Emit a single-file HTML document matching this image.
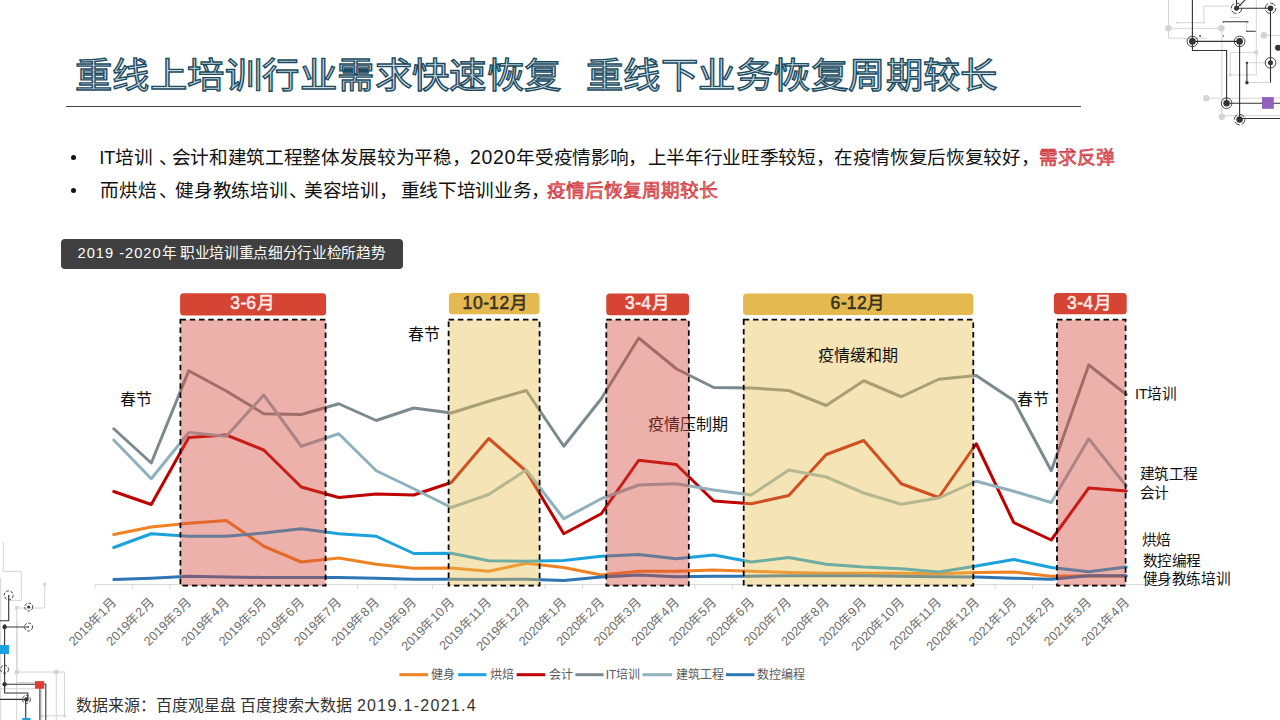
<!DOCTYPE html>
<html lang="zh-CN"><head><meta charset="utf-8"><style>
html,body{margin:0;padding:0;}
body{width:1280px;height:720px;overflow:hidden;background:#fff;position:relative;font-family:"Liberation Sans",sans-serif;}
.abs{position:absolute;}
.title{top:47.8px;transform:scaleY(0.94);transform-origin:0 0;letter-spacing:0.45px;font-size:37.33px;font-weight:normal;color:#c9d9e0;-webkit-text-stroke:1.45px #1b4b60;white-space:nowrap;}
.rule{left:66px;top:105.5px;width:1015px;height:1.5px;background:#454545;}
.b{font-size:18.67px;color:#111;white-space:nowrap;letter-spacing:-0.33px;}
.b .dot{position:absolute;left:-28px;}
.red{color:#e77f80;font-weight:normal;-webkit-text-stroke:0.6px #c9222a;letter-spacing:0;}
.bul{width:5px;height:5px;border-radius:50%;background:#111;}
.num{letter-spacing:0.7px;font-size:19.5px;position:relative;top:4.5px;}
.ctitle{left:60.5px;top:239px;width:342px;height:29.5px;background:#404040;border-radius:4px;color:#fff;font-size:14.67px;line-height:29.5px;}
.ctitle .ct{position:absolute;left:17px;}
svg.chart{position:absolute;left:0;top:0;}
.hdr{font-size:17.5px;}
.hn{letter-spacing:0.6px;}
.hm{font-size:16px;}
.hd{font-size:17.5px;}
.xl{font-size:12.7px;fill:#6e6e6e;}
.ann{font-size:16px;fill:#111;}
.rl{font-size:14.67px;fill:#111;letter-spacing:-0.4px;}
.lg{font-size:12px;fill:#595959;}
.src{left:76px;top:692px;font-size:16px;color:#333;white-space:nowrap;}
</style></head><body>
<svg class="deco" style="position:absolute;left:0;top:0" width="1280" height="720">
<g stroke="#d4d4d4" stroke-width="1" fill="none">
<path d="M1168.5 0V38.2H1206.7M1168.5 28.3H1221.4M1177 22.7H1203.9V6.1H1229.9M1229.9 17.5H1239.8M1221.9 28.3V116.7M1256.3 0V74.9H1230.3V52.4H1256.3M1263.9 35.4H1280M1206.3 98.2H1280M1221.9 115.7H1280M1246.4 22.7V31.2M1246.9 62.8H1270.5M1246.9 82.5H1270.5"/>
<path d="M3.3 542V571.3H21.3V600.4H8.7M0.7 578V720M44.7 584.7V608H16.7V720M17 620V672H56.25M56.25 672H64.6V717M56.25 672V720M17 682.5H35M0 688.75H35M41.7 688.75V720M41.7 715.8H64.6"/>
</g>
<g fill="#d4d4d4">
<circle cx="1168.5" cy="28.3" r="3.3"/><circle cx="1221.4" cy="28.3" r="3.3"/><circle cx="1263.9" cy="35.4" r="3.3"/>
<circle cx="1206.3" cy="98.2" r="3.3"/><circle cx="1221.9" cy="116.7" r="3.3"/><circle cx="1256.3" cy="52.4" r="2.3"/>
<circle cx="1230.3" cy="74.9" r="1.7"/><circle cx="1177" cy="22.7" r="1"/><circle cx="1203.9" cy="22.7" r="1"/>
<rect x="43.2" y="583" width="3" height="3"/><rect x="15" y="606" width="3.5" height="3.5"/>
<circle cx="17" cy="672" r="2.5"/><circle cx="56.25" cy="672" r="2.5"/><circle cx="64.6" cy="716" r="1.6"/><circle cx="41.7" cy="716" r="1.6"/>
</g>
<g stroke="#333" stroke-width="1.1" fill="none">
<path d="M1192.4 0V50.5H1226.6V103.2M1192.4 41.4H1239.6V119.5M1236.5 0V8.3H1270.5V62.8M1236.5 8.3L1245 0M1226.6 103.2H1280M1239.6 118.5H1280M1223.3 22.7V21.7H1247.8V22.7M1246 31.2H1255.8M1246.9 62.8V82.7M1270.5 62.8V82.5"/>
<path d="M8.7 595.3V620.7H0M4.6 627H28.5M4.6 627V693H27.8V699.4M0 699.4H26.4M25.7 699.4V720M4.6 684.2H45.8V720M39.9 688V720"/>
</g>
<g fill="#333">
<circle cx="1192.4" cy="41.4" r="3.3"/><circle cx="1239.6" cy="41.4" r="3.3"/><circle cx="1236.5" cy="8.3" r="2.5"/><circle cx="1270.5" cy="8.3" r="2.8"/>
<circle cx="1270.5" cy="62.8" r="2.5"/><circle cx="1226.6" cy="103.2" r="3.2"/><circle cx="1239.6" cy="119.5" r="3.2"/>
<circle cx="1200.1" cy="35.9" r="0.9"/><circle cx="1223.5" cy="35.9" r="0.7"/><circle cx="1278" cy="47.7" r="3"/>
<rect x="1245.9" y="61.8" width="2" height="2"/><rect x="1245.4" y="81.2" width="3" height="3"/>
<circle cx="4.6" cy="627" r="2.2"/><circle cx="4.6" cy="684.2" r="2.2"/><circle cx="26.4" cy="699.4" r="2.2"/><circle cx="28.7" cy="607" r="1.5"/>
<circle cx="8.7" cy="596" r="0.8"/><circle cx="28.5" cy="627" r="0.8"/><rect x="3.5" y="624.5" width="2.5" height="2"/>
</g>
<g stroke="#333" stroke-width="0.9" fill="none">
<circle cx="1192.4" cy="41.4" r="5.3"/><circle cx="1239.6" cy="41.4" r="5.3"/><circle cx="1236.5" cy="8.3" r="5.3" stroke-dasharray="6 2"/><circle cx="1270.5" cy="8.3" r="5.3" stroke-dasharray="6 2"/>
<circle cx="1270.5" cy="62.8" r="5.3"/><circle cx="1226.6" cy="103.2" r="5.3"/><circle cx="1239.6" cy="119.5" r="5.3" stroke-dasharray="6 2"/>
<circle cx="8.7" cy="595.3" r="4.5" stroke-dasharray="3 1.5"/><circle cx="28.7" cy="607" r="4" stroke-dasharray="3 1.5"/><circle cx="28.5" cy="627" r="4" stroke-dasharray="3 1.5"/>
<circle cx="4.6" cy="669.3" r="4" stroke-dasharray="3 1.5"/><circle cx="26.4" cy="699.4" r="4" stroke-dasharray="3 1.5"/>
</g>
<rect x="1262" y="97.1" width="11.8" height="11.7" fill="#9062bd"/>
<rect x="0" y="645" width="9" height="9" fill="#1ba1db"/>
<rect x="22.2" y="718" width="8.3" height="2" fill="#1ba1db"/>
<rect x="35" y="681.1" width="9.2" height="7.65" fill="#e03c31"/>
</svg>

<div class="abs title" style="left:75px">重线上培训行业需求快速恢复</div>
<div class="abs title" style="left:586px">重线下业务恢复周期较长</div>
<div class="abs rule"></div>
<div class="abs bul" style="left:70.5px;top:154.5px;"></div>
<div class="abs bul" style="left:70.5px;top:187.5px;"></div>
<div class="abs b" style="left:99.25px;top:141.5px;">IT培训</div>
<div class="abs b" style="left:158.5px;top:141.5px;">、</div>
<div class="abs b" style="left:171.5px;top:141.5px;">会计和建筑工程整体发展较为平稳，</div>
<div class="abs b" style="left:469.9px;top:141.5px;"><span class="num">2020</span></div>
<div class="abs b" style="left:516.3px;top:141.5px;">年受疫情影响，</div>
<div class="abs b" style="left:647.75px;top:141.5px;">上半年行业旺季较短，</div>
<div class="abs b" style="left:834px;top:141.5px;">在疫情恢复后恢复较好，</div>
<div class="abs b" style="left:1039px;top:141.5px;"><span class="red">需求反弹</span></div>
<div class="abs b" style="left:100.25px;top:175px;">而烘焙</div>
<div class="abs b" style="left:158.5px;top:175px;">、</div>
<div class="abs b" style="left:175.25px;top:175px;">健身教练培训</div>
<div class="abs b" style="left:288.5px;top:175px;">、</div>
<div class="abs b" style="left:304px;top:175px;">美容培训，</div>
<div class="abs b" style="left:400.5px;top:175px;">重线下培训业务，</div>
<div class="abs b" style="left:547.4px;top:175px;"><span class="red">疫情后恢复周期较长</span></div>
<div class="abs ctitle"><span class="ct"><span style="letter-spacing:1.0px">2019 -2020</span><span style="letter-spacing:-0.33px">年 职业培训重点细分行业检所趋势</span></span></div>
<svg class="chart" width="1280" height="720" viewBox="0 0 1280 720"><line x1="95" y1="584.5" x2="1145" y2="584.5" stroke="#d9d9d9" stroke-width="1"/><line x1="95.00" y1="584.5" x2="95.00" y2="589" stroke="#d9d9d9" stroke-width="1"/><line x1="132.50" y1="584.5" x2="132.50" y2="589" stroke="#d9d9d9" stroke-width="1"/><line x1="170.00" y1="584.5" x2="170.00" y2="589" stroke="#d9d9d9" stroke-width="1"/><line x1="207.50" y1="584.5" x2="207.50" y2="589" stroke="#d9d9d9" stroke-width="1"/><line x1="245.00" y1="584.5" x2="245.00" y2="589" stroke="#d9d9d9" stroke-width="1"/><line x1="282.50" y1="584.5" x2="282.50" y2="589" stroke="#d9d9d9" stroke-width="1"/><line x1="320.00" y1="584.5" x2="320.00" y2="589" stroke="#d9d9d9" stroke-width="1"/><line x1="357.50" y1="584.5" x2="357.50" y2="589" stroke="#d9d9d9" stroke-width="1"/><line x1="395.00" y1="584.5" x2="395.00" y2="589" stroke="#d9d9d9" stroke-width="1"/><line x1="432.50" y1="584.5" x2="432.50" y2="589" stroke="#d9d9d9" stroke-width="1"/><line x1="470.00" y1="584.5" x2="470.00" y2="589" stroke="#d9d9d9" stroke-width="1"/><line x1="507.50" y1="584.5" x2="507.50" y2="589" stroke="#d9d9d9" stroke-width="1"/><line x1="545.00" y1="584.5" x2="545.00" y2="589" stroke="#d9d9d9" stroke-width="1"/><line x1="582.50" y1="584.5" x2="582.50" y2="589" stroke="#d9d9d9" stroke-width="1"/><line x1="620.00" y1="584.5" x2="620.00" y2="589" stroke="#d9d9d9" stroke-width="1"/><line x1="657.50" y1="584.5" x2="657.50" y2="589" stroke="#d9d9d9" stroke-width="1"/><line x1="695.00" y1="584.5" x2="695.00" y2="589" stroke="#d9d9d9" stroke-width="1"/><line x1="732.50" y1="584.5" x2="732.50" y2="589" stroke="#d9d9d9" stroke-width="1"/><line x1="770.00" y1="584.5" x2="770.00" y2="589" stroke="#d9d9d9" stroke-width="1"/><line x1="807.50" y1="584.5" x2="807.50" y2="589" stroke="#d9d9d9" stroke-width="1"/><line x1="845.00" y1="584.5" x2="845.00" y2="589" stroke="#d9d9d9" stroke-width="1"/><line x1="882.50" y1="584.5" x2="882.50" y2="589" stroke="#d9d9d9" stroke-width="1"/><line x1="920.00" y1="584.5" x2="920.00" y2="589" stroke="#d9d9d9" stroke-width="1"/><line x1="957.50" y1="584.5" x2="957.50" y2="589" stroke="#d9d9d9" stroke-width="1"/><line x1="995.00" y1="584.5" x2="995.00" y2="589" stroke="#d9d9d9" stroke-width="1"/><line x1="1032.50" y1="584.5" x2="1032.50" y2="589" stroke="#d9d9d9" stroke-width="1"/><line x1="1070.00" y1="584.5" x2="1070.00" y2="589" stroke="#d9d9d9" stroke-width="1"/><line x1="1107.50" y1="584.5" x2="1107.50" y2="589" stroke="#d9d9d9" stroke-width="1"/><line x1="1145.00" y1="584.5" x2="1145.00" y2="589" stroke="#d9d9d9" stroke-width="1"/><polyline points="113.75,534.50 151.25,527.00 188.75,523.25 226.25,520.50 263.75,546.25 301.25,562.00 338.75,558.00 376.25,564.25 413.75,568.25 451.25,568.00 488.75,571.25 526.25,563.25 563.75,567.50 601.25,575.00 638.75,571.25 676.25,571.25 713.75,570.00 751.25,571.25 788.75,572.50 826.25,573.25 863.75,573.25 901.25,573.25 938.75,573.75 976.25,572.50 1013.75,572.00 1051.25,576.25 1088.75,575.75 1126.25,576.25" fill="none" stroke="#ef8222" stroke-width="3" stroke-linejoin="round" stroke-linecap="round"/><polyline points="113.75,547.50 151.25,533.75 188.75,536.25 226.25,536.25 263.75,533.00 301.25,528.75 338.75,533.75 376.25,536.25 413.75,553.50 451.25,553.25 488.75,560.75 526.25,561.25 563.75,560.50 601.25,556.25 638.75,554.50 676.25,558.75 713.75,555.00 751.25,562.00 788.75,557.50 826.25,564.25 863.75,567.00 901.25,568.75 938.75,572.00 976.25,566.00 1013.75,559.50 1051.25,567.50 1088.75,571.75 1126.25,567.00" fill="none" stroke="#1ba1db" stroke-width="3" stroke-linejoin="round" stroke-linecap="round"/><polyline points="113.75,491.50 151.25,504.50 188.75,437.50 226.25,435.00 263.75,450.00 301.25,487.00 338.75,497.50 376.25,494.00 413.75,495.00 451.25,482.50 488.75,438.50 526.25,471.25 563.75,533.75 601.25,513.75 638.75,460.25 676.25,464.50 713.75,501.00 751.25,503.75 788.75,495.50 826.25,454.50 863.75,440.50 901.25,483.75 938.75,497.50 976.25,443.75 1013.75,522.50 1051.25,540.00 1088.75,488.00 1126.25,491.00" fill="none" stroke="#c00000" stroke-width="3" stroke-linejoin="round" stroke-linecap="round"/><polyline points="113.75,428.75 151.25,463.00 188.75,370.75 226.25,391.00 263.75,413.75 301.25,414.50 338.75,403.75 376.25,420.50 413.75,408.00 451.25,413.00 488.75,401.25 526.25,390.50 563.75,446.25 601.25,398.75 638.75,338.00 676.25,368.75 713.75,387.50 751.25,388.00 788.75,390.50 826.25,405.50 863.75,380.75 901.25,396.75 938.75,379.25 976.25,375.50 1013.75,400.50 1051.25,470.75 1088.75,365.00 1126.25,394.50" fill="none" stroke="#7b8a8e" stroke-width="3" stroke-linejoin="round" stroke-linecap="round"/><polyline points="113.75,440.00 151.25,478.75 188.75,432.50 226.25,436.25 263.75,395.00 301.25,446.25 338.75,433.75 376.25,470.75 413.75,488.75 451.25,507.50 488.75,494.50 526.25,470.00 563.75,518.75 601.25,498.75 638.75,485.00 676.25,483.75 713.75,490.00 751.25,495.00 788.75,470.00 826.25,477.00 863.75,493.00 901.25,504.25 938.75,498.00 976.25,481.25 1013.75,491.25 1051.25,502.50 1088.75,438.75 1126.25,486.00" fill="none" stroke="#8fb1bd" stroke-width="3" stroke-linejoin="round" stroke-linecap="round"/><polyline points="113.75,579.50 151.25,578.25 188.75,576.25 226.25,577.00 263.75,577.50 301.25,577.50 338.75,577.50 376.25,578.25 413.75,579.25 451.25,579.25 488.75,579.50 526.25,579.25 563.75,580.50 601.25,577.00 638.75,575.00 676.25,576.75 713.75,576.25 751.25,576.25 788.75,575.75 826.25,575.75 863.75,575.75 901.25,576.25 938.75,576.75 976.25,577.00 1013.75,578.25 1051.25,579.25 1088.75,575.75 1126.25,575.75" fill="none" stroke="#2e75b6" stroke-width="3" stroke-linejoin="round" stroke-linecap="round"/><text x="648" y="430" class="ann">疫情压制期</text><rect x="180.40" y="319.7" width="145.20" height="266" fill="rgba(212,70,56,0.42)" stroke="#000" stroke-width="1.75" stroke-dasharray="5.5 3.8"/><rect x="448.60" y="319.7" width="91.00" height="266" fill="rgba(232,190,80,0.42)" stroke="#000" stroke-width="1.75" stroke-dasharray="5.5 3.8"/><rect x="606.30" y="319.7" width="82.50" height="266" fill="rgba(212,70,56,0.42)" stroke="#000" stroke-width="1.75" stroke-dasharray="5.5 3.8"/><rect x="743.70" y="319.7" width="229.60" height="266" fill="rgba(232,190,80,0.42)" stroke="#000" stroke-width="1.75" stroke-dasharray="5.5 3.8"/><rect x="1057.00" y="319.7" width="68.60" height="266" fill="rgba(212,70,56,0.42)" stroke="#000" stroke-width="1.75" stroke-dasharray="5.5 3.8"/><rect x="180.10" y="293.2" width="146.00" height="22.30" rx="3.5" fill="#d64433"/><text x="230.20" y="309" class="hdr" fill="#fcebe8" stroke="#fcebe8" stroke-width="0.55"><tspan class="hn">3</tspan><tspan class="hd">-</tspan><tspan class="hn">6月</tspan></text><rect x="448.90" y="293.1" width="90.60" height="21.10" rx="3.5" fill="#e4b94f"/><text x="462.60" y="309" class="hdr" fill="#3b3122" stroke="#3b3122" stroke-width="0.55"><tspan class="hn">10</tspan><tspan class="hd">-</tspan><tspan class="hn">12月</tspan></text><rect x="606.25" y="293.4" width="82.75" height="21.90" rx="3.5" fill="#d64433"/><text x="625.00" y="309" class="hdr" fill="#fcebe8" stroke="#fcebe8" stroke-width="0.55"><tspan class="hn">3</tspan><tspan class="hd">-</tspan><tspan class="hn">4月</tspan></text><rect x="743.10" y="293.4" width="230.30" height="21.70" rx="3.5" fill="#e4b94f"/><text x="830.60" y="309" class="hdr" fill="#3b3122" stroke="#3b3122" stroke-width="0.55"><tspan class="hn">6</tspan><tspan class="hd">-</tspan><tspan class="hn">12月</tspan></text><rect x="1053.90" y="293" width="72.80" height="21.20" rx="3.5" fill="#d64433"/><text x="1067.00" y="309" class="hdr" fill="#fcebe8" stroke="#fcebe8" stroke-width="0.55"><tspan class="hn">3</tspan><tspan class="hd">-</tspan><tspan class="hn">4月</tspan></text><text class="xl" transform="translate(117.25,603.2) rotate(-45)" text-anchor="end">2019年1月</text><text class="xl" transform="translate(154.75,603.2) rotate(-45)" text-anchor="end">2019年2月</text><text class="xl" transform="translate(192.25,603.2) rotate(-45)" text-anchor="end">2019年3月</text><text class="xl" transform="translate(229.75,603.2) rotate(-45)" text-anchor="end">2019年4月</text><text class="xl" transform="translate(267.25,603.2) rotate(-45)" text-anchor="end">2019年5月</text><text class="xl" transform="translate(304.75,603.2) rotate(-45)" text-anchor="end">2019年6月</text><text class="xl" transform="translate(342.25,603.2) rotate(-45)" text-anchor="end">2019年7月</text><text class="xl" transform="translate(379.75,603.2) rotate(-45)" text-anchor="end">2019年8月</text><text class="xl" transform="translate(417.25,603.2) rotate(-45)" text-anchor="end">2019年9月</text><text class="xl" transform="translate(454.75,603.2) rotate(-45)" text-anchor="end">2019年10月</text><text class="xl" transform="translate(492.25,603.2) rotate(-45)" text-anchor="end">2019年11月</text><text class="xl" transform="translate(529.75,603.2) rotate(-45)" text-anchor="end">2019年12月</text><text class="xl" transform="translate(567.25,603.2) rotate(-45)" text-anchor="end">2020年1月</text><text class="xl" transform="translate(604.75,603.2) rotate(-45)" text-anchor="end">2020年2月</text><text class="xl" transform="translate(642.25,603.2) rotate(-45)" text-anchor="end">2020年3月</text><text class="xl" transform="translate(679.75,603.2) rotate(-45)" text-anchor="end">2020年4月</text><text class="xl" transform="translate(717.25,603.2) rotate(-45)" text-anchor="end">2020年5月</text><text class="xl" transform="translate(754.75,603.2) rotate(-45)" text-anchor="end">2020年6月</text><text class="xl" transform="translate(792.25,603.2) rotate(-45)" text-anchor="end">2020年7月</text><text class="xl" transform="translate(829.75,603.2) rotate(-45)" text-anchor="end">2020年8月</text><text class="xl" transform="translate(867.25,603.2) rotate(-45)" text-anchor="end">2020年9月</text><text class="xl" transform="translate(904.75,603.2) rotate(-45)" text-anchor="end">2020年10月</text><text class="xl" transform="translate(942.25,603.2) rotate(-45)" text-anchor="end">2020年11月</text><text class="xl" transform="translate(979.75,603.2) rotate(-45)" text-anchor="end">2020年12月</text><text class="xl" transform="translate(1017.25,603.2) rotate(-45)" text-anchor="end">2021年1月</text><text class="xl" transform="translate(1054.75,603.2) rotate(-45)" text-anchor="end">2021年2月</text><text class="xl" transform="translate(1092.25,603.2) rotate(-45)" text-anchor="end">2021年3月</text><text class="xl" transform="translate(1129.75,603.2) rotate(-45)" text-anchor="end">2021年4月</text><text x="119.5" y="405" class="ann">春节</text><text x="407.5" y="339.5" class="ann">春节</text><text x="818" y="360.5" class="ann">疫情缓和期</text><text x="1017" y="404.5" class="ann">春节</text><text x="1135" y="398.5" class="rl">IT培训</text><text x="1139.5" y="478.5" class="rl">建筑工程</text><text x="1139.5" y="497.5" class="rl">会计</text><text x="1141.5" y="545" class="rl">烘焙</text><text x="1142.5" y="565.5" class="rl">数控编程</text><text x="1142.5" y="583.5" class="rl">健身教练培训</text><line x1="399.4" y1="674.7" x2="428" y2="674.7" stroke="#ef8222" stroke-width="3"/><text x="431" y="678.5" class="lg">健身</text><line x1="458.2" y1="674.7" x2="486.4" y2="674.7" stroke="#1ba1db" stroke-width="3"/><text x="489.8" y="678.5" class="lg">烘焙</text><line x1="516.6" y1="674.7" x2="545.2" y2="674.7" stroke="#c00000" stroke-width="3"/><text x="548.5" y="678.5" class="lg">会计</text><line x1="575.4" y1="674.7" x2="603.6" y2="674.7" stroke="#7b8a8e" stroke-width="3"/><text x="605.7" y="678.5" class="lg">IT培训</text><line x1="642.6" y1="674.7" x2="672.2" y2="674.7" stroke="#8fb1bd" stroke-width="3"/><text x="675.5" y="678.5" class="lg">建筑工程</text><line x1="725.9" y1="674.7" x2="754.5" y2="674.7" stroke="#2e75b6" stroke-width="3"/><text x="757.2" y="678.5" class="lg">数控编程</text></svg>
<div class="abs src">数据来源：百度观星盘 百度搜索大数据 <span style="letter-spacing:1.3px">2019.1-2021.4</span></div>
</body></html>
